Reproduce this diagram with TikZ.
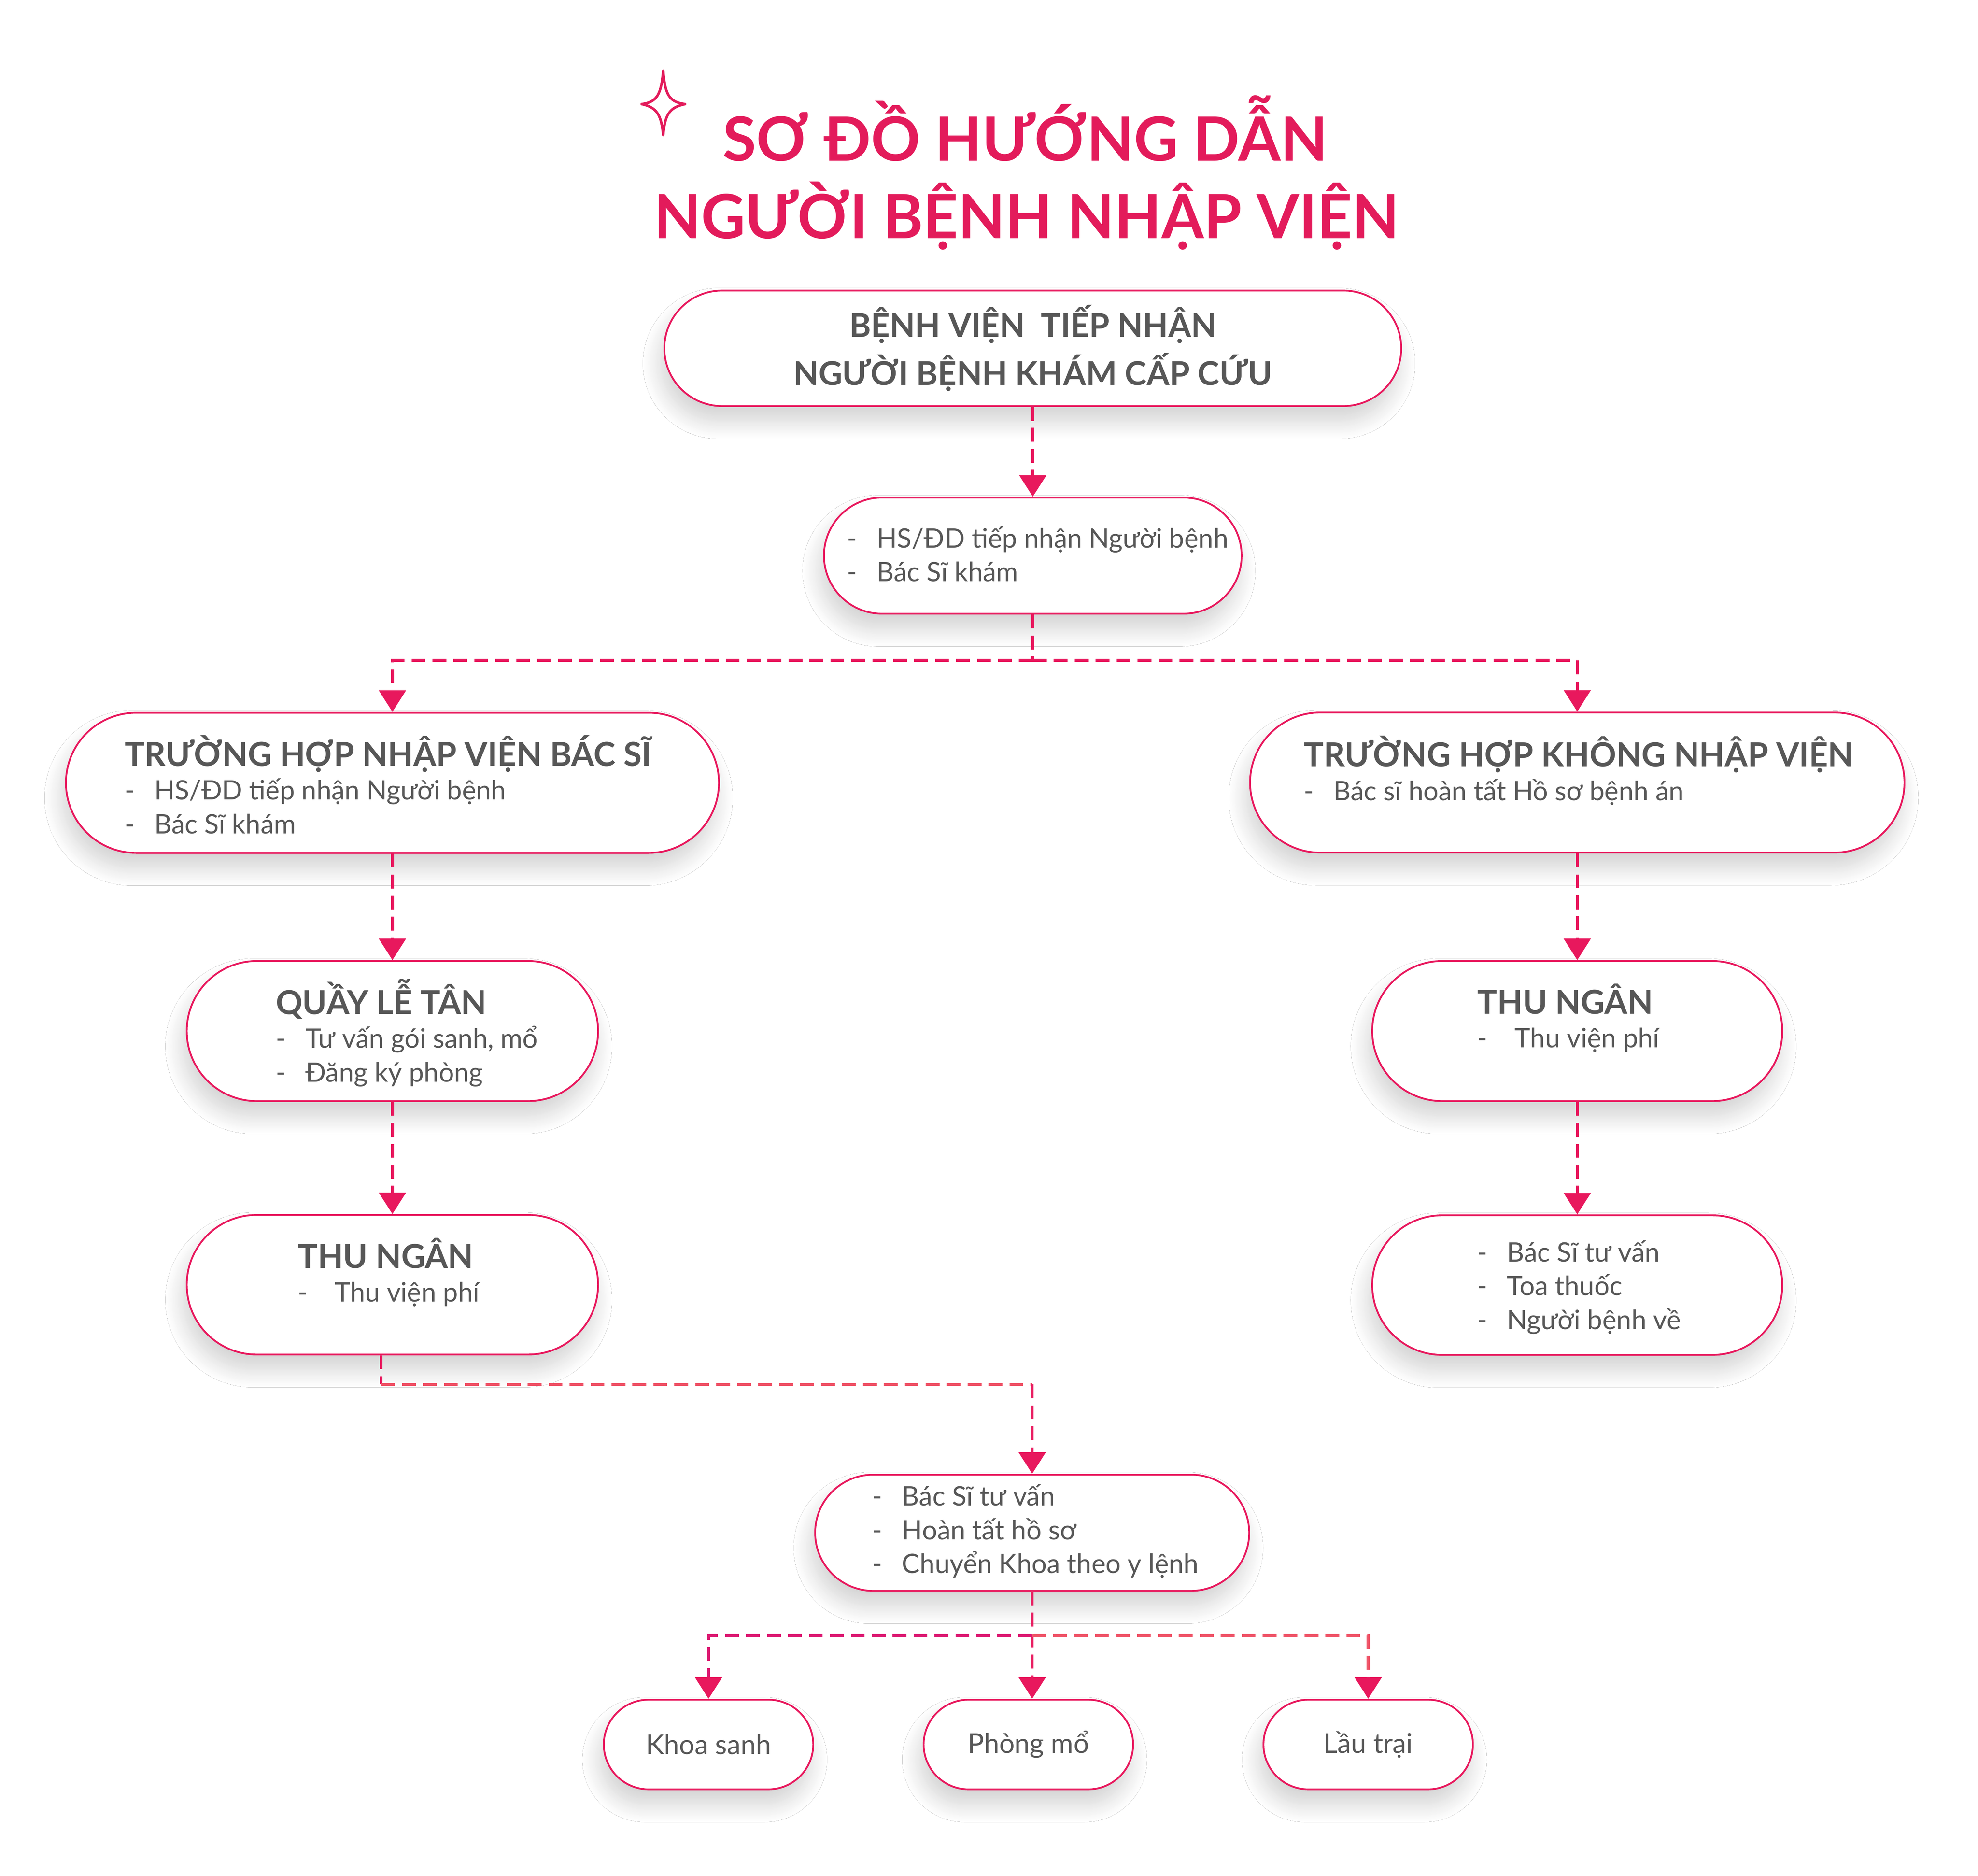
\documentclass[tikz,border=0pt]{standalone}
\usepackage{fontspec}
\setmainfont{Lato}
\usetikzlibrary{shapes.misc,arrows.meta,shadows.blur}

\definecolor{roseline}{HTML}{E8185D}
\definecolor{rosetitle}{HTML}{E31B5B}
\definecolor{textgray}{HTML}{575757}
\definecolor{linkmag}{HTML}{DC1A72}
\definecolor{linkcoral}{HTML}{EF5468}

\newcommand{\boxtitle}[1]{{\fontsize{13.1}{13.4}\selectfont\bfseries\smash{#1}}}
\newcommand{\dashline}[2][11.75pt]{\makebox[#1][l]{-}\smash{#2}}

\begin{document}
\begin{tikzpicture}[x=0.5pt,y=-0.5pt,>={Triangle[width=10.5pt,length=8.5pt,color=roseline]},
    box node/.style={rounded rectangle,draw=roseline,line width=0.7pt,fill=white,inner sep=0pt,
        blur shadow={shadow xshift=-1.5pt,shadow yshift=-6pt,shadow blur radius=7pt,shadow blur steps=20,shadow opacity=18}},
    text node/.style={anchor=base west,inner sep=0pt,text=textgray,font=\fontsize{10.6}{13.4}\selectfont},
    link/.style={draw=roseline,line width=1.2pt,dash pattern=on 5.5pt off 2.8pt},
    title text/.style={anchor=base,inner sep=0pt,text=rosetitle,font=\fontsize{24.2}{30}\selectfont\bfseries}]
    \fill[white] (0,0) rectangle (1567.6,1486.2);
    \useasboundingbox (0,0) rectangle (1567.6,1486.2);

    % title
    \draw[rosetitle,line width=1pt,line join=round]
        (525.6,56) .. controls (527,76) and (531,81) .. (543,82.5)
        .. controls (531,85) and (527,90) .. (525.6,107)
        .. controls (524,90) and (520,85) .. (508.5,82.5)
        .. controls (520,81) and (524,76) .. cycle;
    \node[title text] (title1) at (812.5,127.6) {SƠ ĐỒ HƯỚNG DẪN};
    \node[title text] (title2) at (813.5,189) {NGƯỜI BỆNH NHẬP VIỆN};

    % boxes
    \node[box node,minimum width=292pt,minimum height=45.75pt,align=center,text=textgray,
        font=\fontsize{13}{19}\selectfont\bfseries] (b1) at (818.5,276) {BỆNH VIỆN~~TIẾP NHẬN\\NGƯỜI BỆNH KHÁM CẤP CỨU};
    \node[box node,minimum width=165.5pt,minimum height=46pt] (b2) at (818.5,440.3) {};
    \node[box node,minimum width=258.75pt,minimum height=55.5pt] (b3) at (311,620.3) {};
    \node[box node,minimum width=259.3pt,minimum height=55.5pt] (b4) at (1250,620.1) {};
    \node[box node,minimum width=163pt,minimum height=55.5pt] (b5) at (311,817) {};
    \node[box node,minimum width=162.5pt,minimum height=55.5pt] (b6) at (1250,817) {};
    \node[box node,minimum width=163pt,minimum height=55.3pt] (b7) at (311,1018) {};
    \node[box node,minimum width=162.5pt,minimum height=55.3pt] (b8) at (1250,1018.3) {};
    \node[box node,minimum width=172pt,minimum height=46pt] (b9) at (818,1214.5) {};
    \node[box node,minimum width=83pt,minimum height=35.5pt,text=textgray,
        font=\fontsize{10.8}{13}\selectfont] (b10) at (561.5,1382.3) {Khoa sanh};
    \node[box node,minimum width=83pt,minimum height=35.5pt,text=textgray,
        font=\fontsize{10.8}{13}\selectfont] (b11) at (815,1382.3) {Phòng mổ};
    \node[box node,minimum width=83pt,minimum height=35.5pt,text=textgray,
        font=\fontsize{10.8}{13}\selectfont] (b12) at (1084.3,1382.3) {Lầu trại};

    % box texts
    \node[text node] (t2) at (671,434) {\begin{tabular}[t]{@{}l@{}}
        \dashline{HS/ĐD tiếp nhận Người bệnh}\\ \dashline{Bác Sĩ khám}\end{tabular}};
    \node[text node] (t3) at (98.5,607) {\begin{tabular}[t]{@{}l@{}}
        \boxtitle{TRƯỜNG HỢP NHẬP VIỆN BÁC SĨ}\\
        \dashline{HS/ĐD tiếp nhận Người bệnh}\\ \dashline{Bác Sĩ khám}\end{tabular}};
    \node[text node] (t4) at (1033,607.5) {\begin{tabular}[t]{@{}l@{}}
        \boxtitle{TRƯỜNG HỢP KHÔNG NHẬP VIỆN}\\
        \dashline{Bác sĩ hoàn tất Hồ sơ bệnh án}\end{tabular}};
    \node[text node] (t5) at (218.2,803.6) {\begin{tabular}[t]{@{}l@{}}
        \boxtitle{QUẦY LỄ TÂN}\\
        \dashline{Tư vấn gói sanh, mổ}\\ \dashline{Đăng ký phòng}\end{tabular}};
    \node[text node] (t6) at (1170.5,803.3) {\begin{tabular}[t]{@{}l@{}}
        \boxtitle{THU NGÂN}\\ \dashline[14.75pt]{Thu viện phí}\end{tabular}};
    \node[text node] (t7) at (235.7,1004.8) {\begin{tabular}[t]{@{}l@{}}
        \boxtitle{THU NGÂN}\\ \dashline[14.6pt]{Thu viện phí}\end{tabular}};
    \node[text node] (t8) at (1170.5,999.7) {\begin{tabular}[t]{@{}l@{}}
        \dashline{Bác Sĩ tư vấn}\\ \dashline{Toa thuốc}\\ \dashline{Người bệnh về}\end{tabular}};
    \node[text node] (t9) at (691,1193) {\begin{tabular}[t]{@{}l@{}}
        \dashline{Bác Sĩ tư vấn}\\ \dashline{Hoàn tất hồ sơ}\\ \dashline{Chuyển Khoa theo y lệnh}\end{tabular}};

    % links
    \coordinate (j1) at (818.5,523.3);
    \coordinate (j2) at (818,1097);
    \coordinate (j3) at (818,1296);
    \draw[link,->] (b1.south) -- (b2.north);
    \draw[link] (b2.south) -- (j1);
    \draw[link,->] (j1) -| (b3.north);
    \draw[link,->] (j1) -| (b4.north);
    \draw[link,->] (b3.south) -- (b5.north);
    \draw[link,->] (b5.south) -- (b7.north);
    \draw[link,->] (b4.south) -- (b6.north);
    \draw[link,->] (b6.south) -- (b8.north);
    \draw[link] ([xshift=-4.5pt]b7.south) -- ([xshift=-4.5pt]b7.south |- j2);
    \draw[link,draw=linkcoral] ([xshift=-4.5pt]b7.south |- j2) -- (j2);
    \draw[link,->] (j2) -- (b9.north);
    \draw[link,->] (b9.south) -- (b9.south |- b11.north);
    \draw[link,draw=linkmag,->] (j3) -| (b10.north);
    \draw[link,draw=linkcoral,->] (j3) -| (b12.north);
\end{tikzpicture}
\end{document}
